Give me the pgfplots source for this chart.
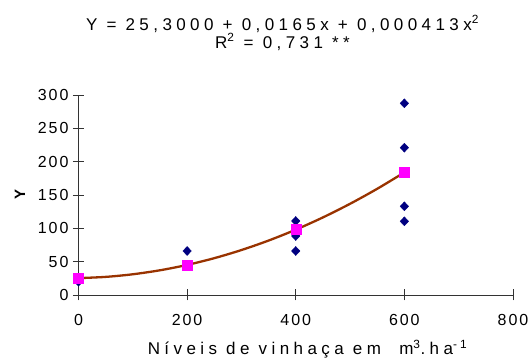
\documentclass[border=0pt]{standalone}
\usepackage{fontspec}
\setmainfont{Liberation Sans}
\newfontfamily\widefont[LetterSpace=26]{Liberation Sans}
\newfontfamily\tickfont[LetterSpace=12]{Liberation Sans}
\usepackage{pgfplots}
\pgfplotsset{compat=1.18}
\definecolor{navyblue}{RGB}{0,0,128}
\definecolor{trend}{RGB}{153,51,0}
\definecolor{pinkm}{RGB}{255,0,255}
\begin{document}
\begin{tikzpicture}[x=1pt,y=1pt]
\path[use as bounding box] (-78.5,-63) rectangle (449.5,295);
\begin{axis}[
  at={(0,0)}, anchor=south west, scale only axis,
  width=434.5pt, height=200pt,
  xmin=0, xmax=800, ymin=0, ymax=300,
  axis x line=bottom, axis y line=left,
  axis line style={-, black!80, line width=0.8pt},
  xtick={0,200,400,600,800}, ytick={0,50,100,150,200,250,300},
  tick align=center,
  major tick length=11pt,
  tick style={black!80, line width=0.8pt},
  /pgf/number format/assume math mode=true,
  /pgf/number format/1000 sep={},
  ticklabel style={font=\tickfont\fontsize{16}{16}\selectfont},
  xticklabel style={yshift=-10pt},
  yticklabel style={xshift=-1pt},
  clip=false,
]
\addplot[only marks, mark=diamond*, mark size=4.5pt, color=navyblue, mark options={xscale=1.25}]
  coordinates {(0,20) (200,66) (400,111) (400,99) (400,88.5) (400,66) (600,287.5) (600,221) (600,133) (600,110.5)};
\addplot[only marks, mark=square*, mark size=5pt, color=pinkm]
  coordinates {(0,25.3) (200,45.1) (400,98.0) (600,183.9)};
\addplot[trend, line width=2.3pt, smooth, no markers]
  coordinates {(0,25.30) (50,27.16) (100,31.08) (150,37.07) (200,45.12) (250,55.24) (300,67.42) (350,81.67) (400,97.98) (450,116.36) (500,136.80) (550,159.31) (600,183.88)};
\end{axis}
\node[font=\widefont\fontsize{17}{18}\selectfont, align=center] at (204,262)
  {Y = 25,3000 + 0,0165x + 0,000413x\textsuperscript{2}\\R\textsuperscript{2} = 0,731 **};
\node[rotate=90, font=\bfseries\fontsize{15}{15}\selectfont] at (-58.5,100) {Y};
\node[font=\widefont\fontsize{17}{17}\selectfont] at (229,-54) {Níveis de vinhaça em\ \ m\textsuperscript{3}.ha\textsuperscript{-1}};
\end{tikzpicture}
\end{document}
